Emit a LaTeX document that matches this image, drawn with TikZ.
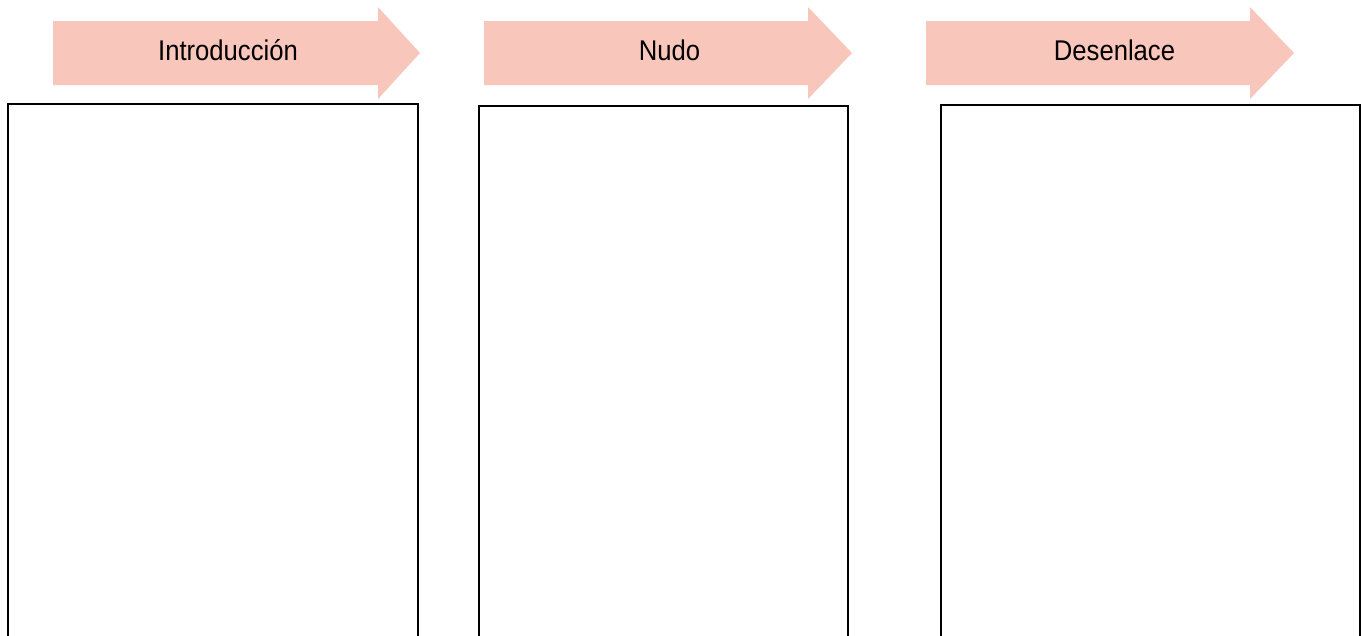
\documentclass[tikz,border=0pt]{standalone}
\usepackage{fontspec}
\setmainfont{Liberation Sans}
\definecolor{arrowpink}{RGB}{249,198,188}
\begin{document}
\begin{tikzpicture}[x=1pt,y=-1pt,
  stagearrow/.style={fill=arrowpink,draw=none},
  stagebox/.style={draw=black,line width=2pt},
  stagelabel/.style={anchor=base,inner sep=0pt,font=\fontsize{28.5}{30}\selectfont,text=black}]
\useasboundingbox (0,0) rectangle (1361,635);
\clip (0,0) rectangle (1361,635);
% arrows
\fill[stagearrow] (53,21) -- (378,21) -- (378,7) -- (420,53) -- (378,99) -- (378,85) -- (53,85) -- cycle;
\fill[stagearrow] (484,21) -- (808,21) -- (808,7) -- (852,53) -- (808,99) -- (808,85) -- (484,85) -- cycle;
\fill[stagearrow] (926,21) -- (1250,21) -- (1250,7) -- (1294,53) -- (1250,99) -- (1250,85) -- (926,85) -- cycle;
% labels
\node[stagelabel] (intro) at (228,60) {\scalebox{0.9}[1]{Introducción}};
\node[stagelabel] (nudo) at (669.5,60) {\scalebox{0.9}[1]{Nudo}};
\node[stagelabel] (desenlace) at (1114.5,60) {\scalebox{0.9}[1]{Desenlace}};
% boxes
\draw[stagebox] (8,104) rectangle (418,660);
\draw[stagebox] (479,106) rectangle (848,660);
\draw[stagebox] (941,105) rectangle (1360,660);
\end{tikzpicture}
\end{document}
